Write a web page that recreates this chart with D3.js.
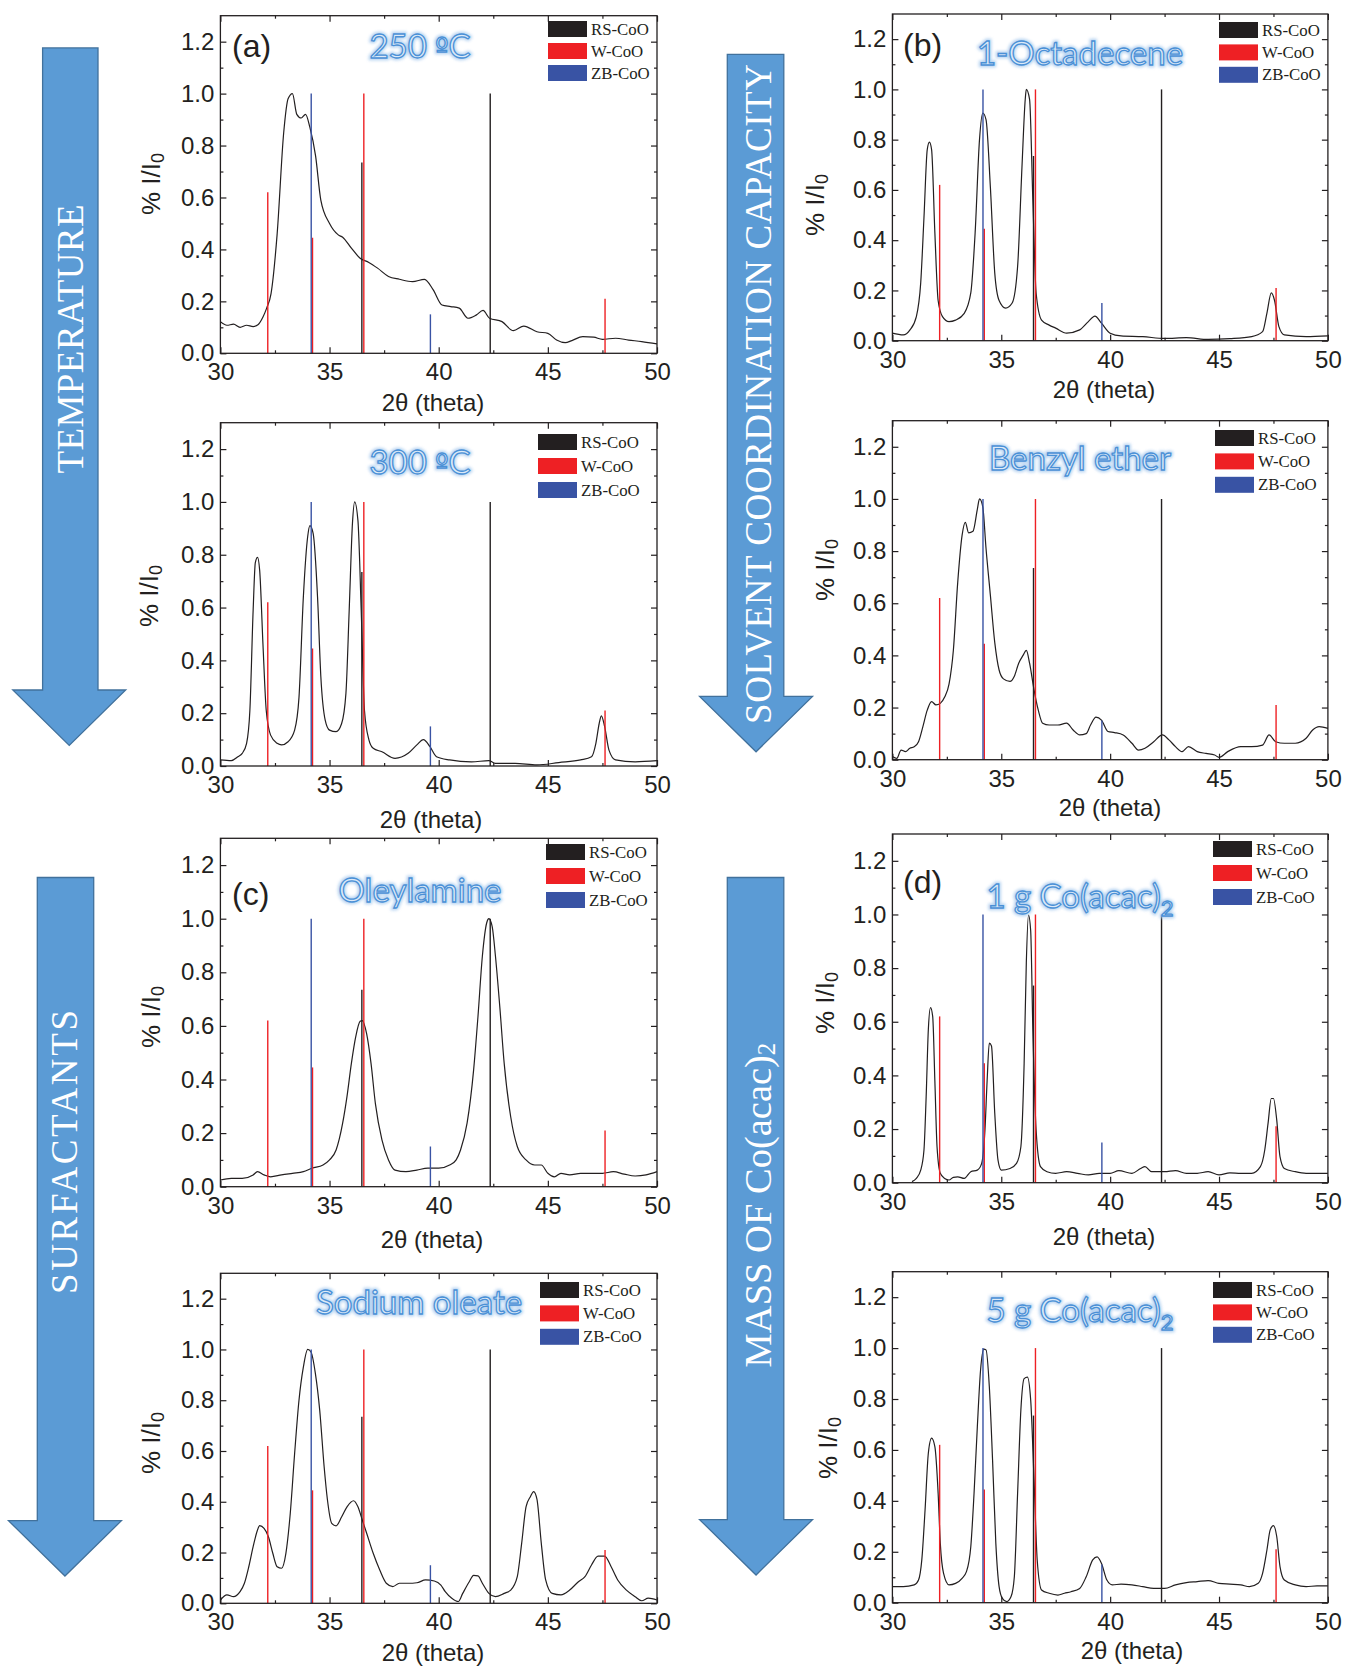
<!DOCTYPE html>
<html><head><meta charset="utf-8">
<script src="https://cdn.jsdelivr.net/npm/d3@7"></script>
<style>body{margin:0;background:#fff}svg{display:block}</style>
</head><body>
<svg id="chart" width="1346" height="1670"></svg>
<script>
// ---------------- DATA ----------------
const xTicks = [30, 35, 40, 45, 50];
const yTicks = [0, 0.2, 0.4, 0.6, 0.8, 1.0, 1.2];
const legendLabels = ["RS-CoO", "W-CoO", "ZB-CoO"];
const legendColors = ["#231f20", "#ee2024", "#3953a4"];

// reference patterns [2theta, I/I0]
const rsCoO = [[36.48, 0.735], [42.36, 1.0]];
const wCoO  = [[32.17, 0.62], [34.22, 0.445], [36.57, 1.0], [47.62, 0.21]];
const zbCoO = [[34.16, 1.0], [39.62, 0.15]];

const curve250 = [[30,0.122],[30.3,0.108],[30.6,0.112],[30.9,0.100],[31.2,0.108],[31.5,0.103],[31.72,0.11],[31.95,0.14],[32.12,0.174],[32.32,0.23],[32.6,0.46],[32.9,0.85],[33.1,0.98],[33.3,1.0],[33.5,0.92],[33.7,0.906],[33.9,0.92],[34.1,0.87],[34.36,0.76],[34.6,0.59],[35.0,0.50],[35.4,0.456],[35.6,0.447],[36.0,0.405],[36.4,0.366],[36.8,0.35],[37.2,0.328],[37.7,0.296],[38.2,0.285],[38.8,0.276],[39.35,0.285],[39.75,0.244],[40.15,0.186],[40.55,0.18],[40.94,0.174],[41.34,0.135],[41.73,0.148],[42.03,0.165],[42.33,0.135],[42.9,0.122],[43.42,0.087],[43.9,0.105],[44.5,0.083],[45.0,0.077],[45.4,0.051],[45.8,0.041],[46.1,0.049],[46.6,0.064],[47.1,0.062],[47.5,0.054],[48.1,0.058],[48.7,0.051],[49.3,0.045],[50,0.036]];

const curve300 = [[30,0.023],[30.5,0.02],[30.8,0.035],[31.0,0.048],[31.2,0.086],[31.35,0.21],[31.5,0.59],[31.6,0.77],[31.7,0.79],[31.8,0.74],[31.95,0.46],[32.1,0.21],[32.3,0.117],[32.6,0.086],[32.8,0.08],[33.1,0.092],[33.4,0.136],[33.6,0.26],[33.8,0.64],[34.0,0.87],[34.1,0.91],[34.25,0.88],[34.45,0.64],[34.6,0.34],[34.8,0.174],[35.0,0.136],[35.3,0.13],[35.55,0.16],[35.75,0.275],[35.9,0.59],[36.05,0.92],[36.15,1.0],[36.3,0.93],[36.45,0.59],[36.6,0.21],[36.8,0.1],[37.0,0.067],[37.4,0.054],[38.0,0.029],[38.6,0.048],[39.0,0.08],[39.3,0.1],[39.6,0.073],[39.9,0.035],[40.5,0.023],[41.5,0.016],[42.3,0.02],[42.6,0.01],[43.5,0.01],[44.5,0.004],[45.5,0.013],[46.5,0.023],[47.0,0.035],[47.2,0.086],[47.35,0.16],[47.45,0.19],[47.6,0.15],[47.8,0.06],[48.1,0.023],[49,0.016],[50,0.02]];

const curveOleylamine = [[30,0.025],[30.5,0.031],[31.0,0.031],[31.5,0.044],[31.7,0.056],[32.0,0.044],[32.3,0.037],[32.8,0.044],[33.3,0.05],[33.8,0.056],[34.2,0.069],[34.7,0.081],[35.0,0.10],[35.3,0.137],[35.6,0.237],[35.8,0.337],[36.0,0.46],[36.2,0.56],[36.4,0.617],[36.5,0.62],[36.7,0.57],[36.9,0.46],[37.1,0.31],[37.4,0.175],[37.7,0.10],[38.0,0.062],[38.5,0.056],[39.0,0.062],[39.5,0.069],[40.0,0.069],[40.5,0.081],[40.8,0.10],[41.0,0.137],[41.3,0.237],[41.6,0.436],[41.8,0.636],[42.0,0.86],[42.2,0.985],[42.3,1.0],[42.45,0.97],[42.6,0.86],[42.8,0.67],[43.0,0.46],[43.3,0.26],[43.6,0.15],[44.0,0.10],[44.4,0.081],[44.7,0.081],[45.0,0.05],[45.3,0.037],[45.6,0.05],[46.0,0.044],[46.5,0.05],[47.0,0.05],[47.5,0.05],[48.0,0.056],[48.5,0.047],[49.0,0.04],[49.5,0.044],[50,0.056]];

const curveSodiumOleate = [[30,0.013],[30.3,0.033],[30.6,0.026],[30.9,0.046],[31.1,0.079],[31.3,0.144],[31.5,0.223],[31.7,0.289],[31.8,0.306],[32.0,0.295],[32.2,0.262],[32.4,0.197],[32.6,0.144],[32.8,0.138],[33.0,0.197],[33.2,0.354],[33.4,0.59],[33.6,0.80],[33.8,0.93],[34.0,1.0],[34.15,0.99],[34.35,0.906],[34.55,0.76],[34.75,0.54],[34.9,0.41],[35.1,0.315],[35.3,0.305],[35.55,0.34],[35.8,0.38],[36.1,0.404],[36.3,0.38],[36.5,0.328],[36.7,0.276],[37.0,0.197],[37.3,0.131],[37.6,0.079],[37.9,0.066],[38.2,0.079],[38.6,0.079],[39.0,0.081],[39.4,0.092],[39.8,0.088],[40.1,0.072],[40.3,0.046],[40.6,0.02],[40.9,0.007],[41.1,0.039],[41.4,0.085],[41.6,0.11],[41.8,0.108],[42.0,0.079],[42.3,0.039],[42.6,0.026],[43.0,0.039],[43.3,0.052],[43.6,0.105],[43.8,0.236],[44.0,0.38],[44.2,0.42],[44.35,0.44],[44.5,0.41],[44.7,0.236],[44.9,0.092],[45.2,0.039],[45.6,0.033],[46.0,0.052],[46.4,0.085],[46.7,0.105],[47.0,0.151],[47.3,0.186],[47.6,0.186],[47.9,0.144],[48.2,0.092],[48.6,0.052],[49.0,0.026],[49.3,0.01],[49.6,0.02],[50,0.013]];

const curveOctadecene = [[30,0.03],[30.5,0.023],[30.8,0.042],[31.1,0.096],[31.3,0.23],[31.45,0.49],[31.6,0.76],[31.7,0.79],[31.8,0.76],[31.95,0.43],[32.1,0.16],[32.3,0.096],[32.6,0.076],[32.9,0.082],[33.3,0.109],[33.6,0.19],[33.8,0.43],[34.0,0.8],[34.15,0.906],[34.3,0.88],[34.5,0.61],[34.7,0.27],[34.9,0.16],[35.2,0.13],[35.5,0.15],[35.75,0.295],[35.95,0.69],[36.1,0.96],[36.15,1.0],[36.3,0.96],[36.45,0.56],[36.6,0.19],[36.85,0.082],[37.2,0.062],[37.5,0.05],[38.0,0.03],[38.6,0.043],[39.0,0.076],[39.3,0.098],[39.6,0.07],[40.0,0.03],[40.5,0.019],[41.5,0.016],[42.5,0.009],[43.5,0.012],[44.5,0.005],[45.5,0.008],[46.5,0.016],[47.0,0.036],[47.2,0.11],[47.4,0.19],[47.55,0.16],[47.75,0.056],[48.0,0.023],[49,0.016],[50,0.019]];

const curveBenzylEther = [[30,0.012],[30.2,0.005],[30.4,0.037],[30.6,0.031],[30.8,0.044],[31.0,0.05],[31.2,0.069],[31.4,0.127],[31.6,0.19],[31.8,0.223],[32.0,0.21],[32.2,0.216],[32.4,0.24],[32.6,0.29],[32.8,0.42],[33.0,0.68],[33.2,0.86],[33.35,0.91],[33.5,0.87],[33.7,0.876],[33.9,0.96],[34.0,1.0],[34.15,0.97],[34.3,0.81],[34.5,0.63],[34.7,0.45],[34.9,0.344],[35.1,0.31],[35.4,0.30],[35.6,0.32],[35.8,0.37],[36.0,0.40],[36.15,0.419],[36.3,0.37],[36.5,0.27],[36.7,0.19],[36.9,0.14],[37.2,0.133],[37.6,0.133],[38.0,0.14],[38.3,0.114],[38.6,0.095],[38.9,0.10],[39.1,0.133],[39.35,0.163],[39.6,0.152],[39.9,0.108],[40.2,0.104],[40.6,0.095],[41.0,0.063],[41.3,0.037],[41.6,0.044],[42.0,0.069],[42.4,0.095],[42.7,0.076],[43.0,0.05],[43.3,0.031],[43.6,0.05],[44.0,0.031],[44.4,0.024],[44.8,0.018],[45.0,0.009],[45.4,0.031],[46.0,0.05],[46.5,0.05],[47.0,0.056],[47.3,0.095],[47.6,0.069],[48.0,0.063],[48.5,0.063],[49.0,0.082],[49.3,0.114],[49.6,0.127],[50,0.12]];

const curve1g = [[30.9,0.004],[31.1,0.016],[31.3,0.047],[31.45,0.122],[31.55,0.32],[31.65,0.57],[31.75,0.653],[31.85,0.62],[31.95,0.38],[32.05,0.134],[32.2,0.035],[32.4,0.016],[32.6,0.01],[32.8,0.02],[33.0,0.022],[33.3,0.016],[33.6,0.041],[33.9,0.047],[34.1,0.072],[34.25,0.196],[34.35,0.38],[34.45,0.52],[34.55,0.51],[34.7,0.26],[34.85,0.084],[35.0,0.047],[35.4,0.053],[35.7,0.072],[35.9,0.134],[36.05,0.445],[36.15,0.82],[36.25,0.998],[36.35,0.94],[36.45,0.57],[36.6,0.196],[36.8,0.06],[37.1,0.041],[37.5,0.035],[38.0,0.041],[38.5,0.035],[39.0,0.029],[39.5,0.035],[40.0,0.035],[40.4,0.045],[41.0,0.035],[41.4,0.053],[41.6,0.06],[41.9,0.041],[42.5,0.041],[43.0,0.045],[43.5,0.035],[44.0,0.035],[44.5,0.041],[45.0,0.029],[45.5,0.037],[46.0,0.035],[46.5,0.035],[46.9,0.06],[47.1,0.122],[47.25,0.22],[47.4,0.314],[47.5,0.314],[47.65,0.234],[47.8,0.097],[48.0,0.053],[48.5,0.041],[49.0,0.035],[50,0.035]];

const curve5g = [[30,0.063],[30.5,0.063],[31.0,0.07],[31.2,0.089],[31.35,0.168],[31.5,0.364],[31.65,0.587],[31.8,0.646],[31.95,0.613],[32.1,0.43],[32.2,0.233],[32.35,0.115],[32.6,0.07],[32.9,0.076],[33.2,0.096],[33.4,0.122],[33.6,0.22],[33.75,0.43],[33.9,0.69],[34.05,0.915],[34.2,0.996],[34.3,0.993],[34.45,0.85],[34.6,0.56],[34.75,0.233],[34.9,0.063],[35.05,0.017],[35.25,0.004],[35.45,0.024],[35.6,0.102],[35.75,0.43],[35.9,0.757],[36.05,0.88],[36.2,0.886],[36.35,0.797],[36.5,0.495],[36.65,0.168],[36.85,0.05],[37.2,0.037],[37.6,0.03],[37.9,0.037],[38.2,0.043],[38.6,0.056],[38.9,0.102],[39.2,0.168],[39.4,0.18],[39.6,0.155],[39.85,0.089],[40.1,0.07],[40.5,0.073],[41.0,0.07],[41.5,0.063],[42.0,0.056],[42.5,0.056],[43.0,0.07],[43.5,0.079],[44.0,0.083],[44.5,0.087],[45.0,0.076],[45.5,0.073],[46.0,0.07],[46.4,0.063],[46.8,0.076],[47.0,0.115],[47.2,0.207],[47.35,0.286],[47.5,0.303],[47.65,0.26],[47.8,0.142],[48.0,0.089],[48.5,0.07],[49.0,0.063],[49.5,0.066],[50,0.066]];

// title parts: [main text, ordinal/none, tail, subscript]
const panelTitles = [["250 ", "º", "C", ""], ["300 ", "º", "C", ""], ["Oleylamine", "", "", ""], ["Sodium oleate", "", "", ""],
                     ["1-Octadecene", "", "", ""], ["Benzyl ether", "", "", ""], ["1 g Co(acac)", "", "", "2"], ["5 g Co(acac)", "", "", "2"]];
const panelLetters = ["(a)", "", "(c)", "", "(b)", "", "(d)", ""];
const arrowLabels = ["TEMPERATURE", "SURFACTANTS", "SOLVENT COORDINATION CAPACITY", "MASS OF Co(acac)"];

// ---------------- LAYOUT ----------------
const colX = [[220.4, 657.0], [892.4, 1327.9]];
const layout = [
  {curve: curve250, col:0, y0:353.3, top:15.7, title:[420,58], letter:[232,57], leg:[548,21,22], yl:[151,184], xl:[433,402.5]},
  {curve: curve300, col:0, y0:766.0, top:422.7, title:[420,474], letter:null, leg:[538,434,24], yl:[149,596], xl:[431,819]},
  {curve: curveOleylamine, col:0, y0:1186.7, top:838.3, title:[420,902], letter:[232,905], leg:[546,844,24], yl:[151,1017], xl:[432,1239.5]},
  {curve: curveSodiumOleate, col:0, y0:1603.3, top:1273.3, title:[419,1314], letter:null, leg:[540,1282,23.4], yl:[151,1443], xl:[433,1652.7]},
  {curve: curveOctadecene, col:1, y0:340.7, top:14.0, title:[1080,65], letter:[903,56], leg:[1219,22,22.4], yl:[815,205], xl:[1104,389.7]},
  {curve: curveBenzylEther, col:1, y0:759.7, top:420.7, title:[1080,470], letter:null, leg:[1215,430,23.4], yl:[825,570], xl:[1110,807]},
  {curve: curve1g, col:1, y0:1182.7, top:834.0, title:[1080,908], letter:[903,893], leg:[1213,841,24], yl:[825,1003], xl:[1104,1236.3]},
  {curve: curve5g, col:1, y0:1602.7, top:1271.7, title:[1080,1322], letter:null, leg:[1213,1282,22.4], yl:[828,1448], xl:[1132,1650.6]}
];
const arrows = [
  {sl:42.6, sr:98, top:47.9, hy:690, hl:12.8, hr:125.7, tip:745.4, c:[70,339], len:269},
  {sl:37.3, sr:93.7, top:877.5, hy:1520.7, hl:8.5, hr:121.4, tip:1576, c:[64,1152], len:284},
  {sl:727.3, sr:783.8, top:54.3, hy:696.4, hl:699.6, hr:812.5, tip:751.8, c:[758,394], len:660},
  {sl:727.3, sr:783.8, top:877.5, hy:1519.6, hl:699.6, hr:812.5, tip:1575, c:[758,1205], len:null, sub:true}
];

const svg = d3.select("#chart");
const defs = svg.append("defs");
const glow = defs.append("filter").attr("id","glow").attr("x","-10%").attr("y","-30%").attr("width","120%").attr("height","160%");
glow.append("feGaussianBlur").attr("stdDeviation", 1.8);

// ---------------- ARROWS ----------------
arrows.forEach((a, i) => {
  const p = d3.path();
  const cx = (a.hl + a.hr) / 2;
  p.moveTo(a.sl, a.top); p.lineTo(a.sr, a.top); p.lineTo(a.sr, a.hy); p.lineTo(a.hr, a.hy);
  p.lineTo(cx, a.tip); p.lineTo(a.hl, a.hy); p.lineTo(a.sl, a.hy); p.closePath();
  svg.append("path").attr("d", p.toString()).attr("fill", "#5b9bd5").attr("stroke", "#41719c").attr("stroke-width", 1.3);
  const t = svg.append("text")
    .attr("transform", `translate(${a.c[0]},${a.c[1]}) rotate(-90)`)
    .attr("text-anchor", "middle").attr("dominant-baseline", "central")
    .attr("font-family", "'Liberation Serif','Times New Roman',serif")
    .attr("font-size", 37).attr("fill", "#fff");
  if (a.sub) {
    t.attr("font-size", 38.5);
    t.append("tspan").text(arrowLabels[i]);
    t.append("tspan").attr("font-size", 25).attr("dy", 8).text("2");
  } else {
    t.text(arrowLabels[i]).attr("textLength", a.len).attr("lengthAdjust", "spacing");
  }
});

// ---------------- PANELS ----------------
const sans = "'Liberation Sans',Arial,sans-serif";
const ink = "#231f20";
layout.forEach((L, i) => {
  const [xl, xr] = colX[L.col];
  const x = d3.scaleLinear().domain([30, 50]).range([xl, xr]);
  const y = d3.scaleLinear().domain([0, 1.3]).range([L.y0, L.top]);
  const g = svg.append("g");

  // curve
  const line = d3.line().x(d => x(d[0])).y(d => y(d[1])).curve(d3.curveMonotoneX);
  g.append("path").datum(L.curve).attr("d", line).attr("fill", "none").attr("stroke", ink).attr("stroke-width", 1.2);

  // reference sticks
  [[rsCoO, legendColors[0]], [wCoO, legendColors[1]], [zbCoO, legendColors[2]]].forEach(([arr, col]) => {
    g.selectAll(null).data(arr).enter().append("line")
      .attr("x1", d => x(d[0])).attr("x2", d => x(d[0]))
      .attr("y1", y(0)).attr("y2", d => y(d[1]))
      .attr("stroke", col).attr("stroke-width", 1.4);
  });

  // frame
  g.append("rect").attr("x", xl).attr("y", L.top).attr("width", xr - xl).attr("height", L.y0 - L.top)
    .attr("fill", "none").attr("stroke", ink).attr("stroke-width", 1.3);

  // axes with inward ticks
  const xMinor = d3.range(32.5, 50, 5);
  const yMinor = d3.range(0.1, 1.3, 0.2);
  const axB = d3.axisBottom(x).tickValues(xTicks).tickSize(-6).tickPadding(10).tickFormat(d3.format("d"));
  const axL = d3.axisLeft(y).tickValues(yTicks).tickSize(-6).tickPadding(6).tickFormat(d3.format(".1f"));
  g.append("g").attr("transform", `translate(0,${L.y0})`).call(axB);
  g.append("g").attr("transform", `translate(${xl},0)`).call(axL);
  g.append("g").attr("transform", `translate(0,${L.y0})`).call(d3.axisBottom(x).tickValues(xMinor).tickSize(-3).tickFormat(""));
  g.append("g").attr("transform", `translate(${xl},0)`).call(d3.axisLeft(y).tickValues(yMinor).tickSize(-3).tickFormat(""));
  g.append("g").attr("transform", `translate(0,${L.top})`).call(d3.axisTop(x).tickValues(xTicks).tickSize(-6).tickFormat(""));
  g.append("g").attr("transform", `translate(0,${L.top})`).call(d3.axisTop(x).tickValues(xMinor).tickSize(-3).tickFormat(""));
  g.append("g").attr("transform", `translate(${xr},0)`).call(d3.axisRight(y).tickValues(yTicks).tickSize(-6).tickFormat(""));
  g.append("g").attr("transform", `translate(${xr},0)`).call(d3.axisRight(y).tickValues(yMinor).tickSize(-3).tickFormat(""));
  g.selectAll(".domain").remove();
  g.selectAll(".tick line").attr("stroke", ink).attr("stroke-width", 1.2);
  g.selectAll(".tick text").attr("font-family", sans).attr("font-size", 24).attr("fill", ink);

  // axis titles
  g.append("text").attr("x", L.xl[0]).attr("y", L.xl[1]).attr("text-anchor", "middle").attr("dominant-baseline", "central")
    .attr("font-family", sans).attr("font-size", 24).attr("fill", ink).text("2θ (theta)");
  const yt = g.append("text").attr("transform", `translate(${L.yl[0]},${L.yl[1]}) rotate(-90)`)
    .attr("text-anchor", "middle").attr("dominant-baseline", "central")
    .attr("font-family", sans).attr("font-size", 26).attr("fill", ink);
  yt.append("tspan").text("% I/I");
  yt.append("tspan").attr("font-size", 18).attr("dy", 7).text("0");

  // legend
  legendLabels.forEach((lab, k) => {
    const ry = L.leg[1] + k * L.leg[2];
    g.append("rect").attr("x", L.leg[0]).attr("y", ry).attr("width", 39).attr("height", 16).attr("fill", legendColors[k]);
    g.append("text").attr("x", L.leg[0] + 43).attr("y", ry + 8).attr("dominant-baseline", "central")
      .attr("font-family", "'Liberation Serif','Times New Roman',serif").attr("font-size", 16.8).attr("fill", ink).text(lab);
  });

  // panel letter
  if (panelLetters[i]) {
    g.append("text").attr("x", L.letter[0]).attr("y", L.letter[1]).attr("font-family", sans)
      .attr("font-size", 32).attr("fill", ink).text(panelLetters[i]);
  }

  // title with glow
  const parts = panelTitles[i];
  const mkTitle = (parent) => {
    const t = parent.append("text").attr("x", L.title[0]).attr("y", L.title[1]).attr("text-anchor", "middle")
      .attr("font-family", "Lato,'Open Sans',sans-serif").attr("font-size", 33);
    t.append("tspan").text(parts[0]);
    if (parts[1]) t.append("tspan").attr("font-family", "'DejaVu Sans',sans-serif").attr("font-size", 28).text(parts[1]);
    if (parts[2]) t.append("tspan").text(parts[2]);
    if (parts[3]) t.append("tspan").attr("font-size", 22).attr("dy", 8).text(parts[3]);
    return t;
  };
  mkTitle(g).attr("fill", "#a9cbee").attr("stroke", "#a9cbee").attr("stroke-width", 4.5).attr("filter", "url(#glow)").attr("opacity", 0.85);
  mkTitle(g).attr("fill", "#dceaf8").attr("stroke", "#4a90d6").attr("stroke-width", 1.3);
});
</script>
</body></html>
